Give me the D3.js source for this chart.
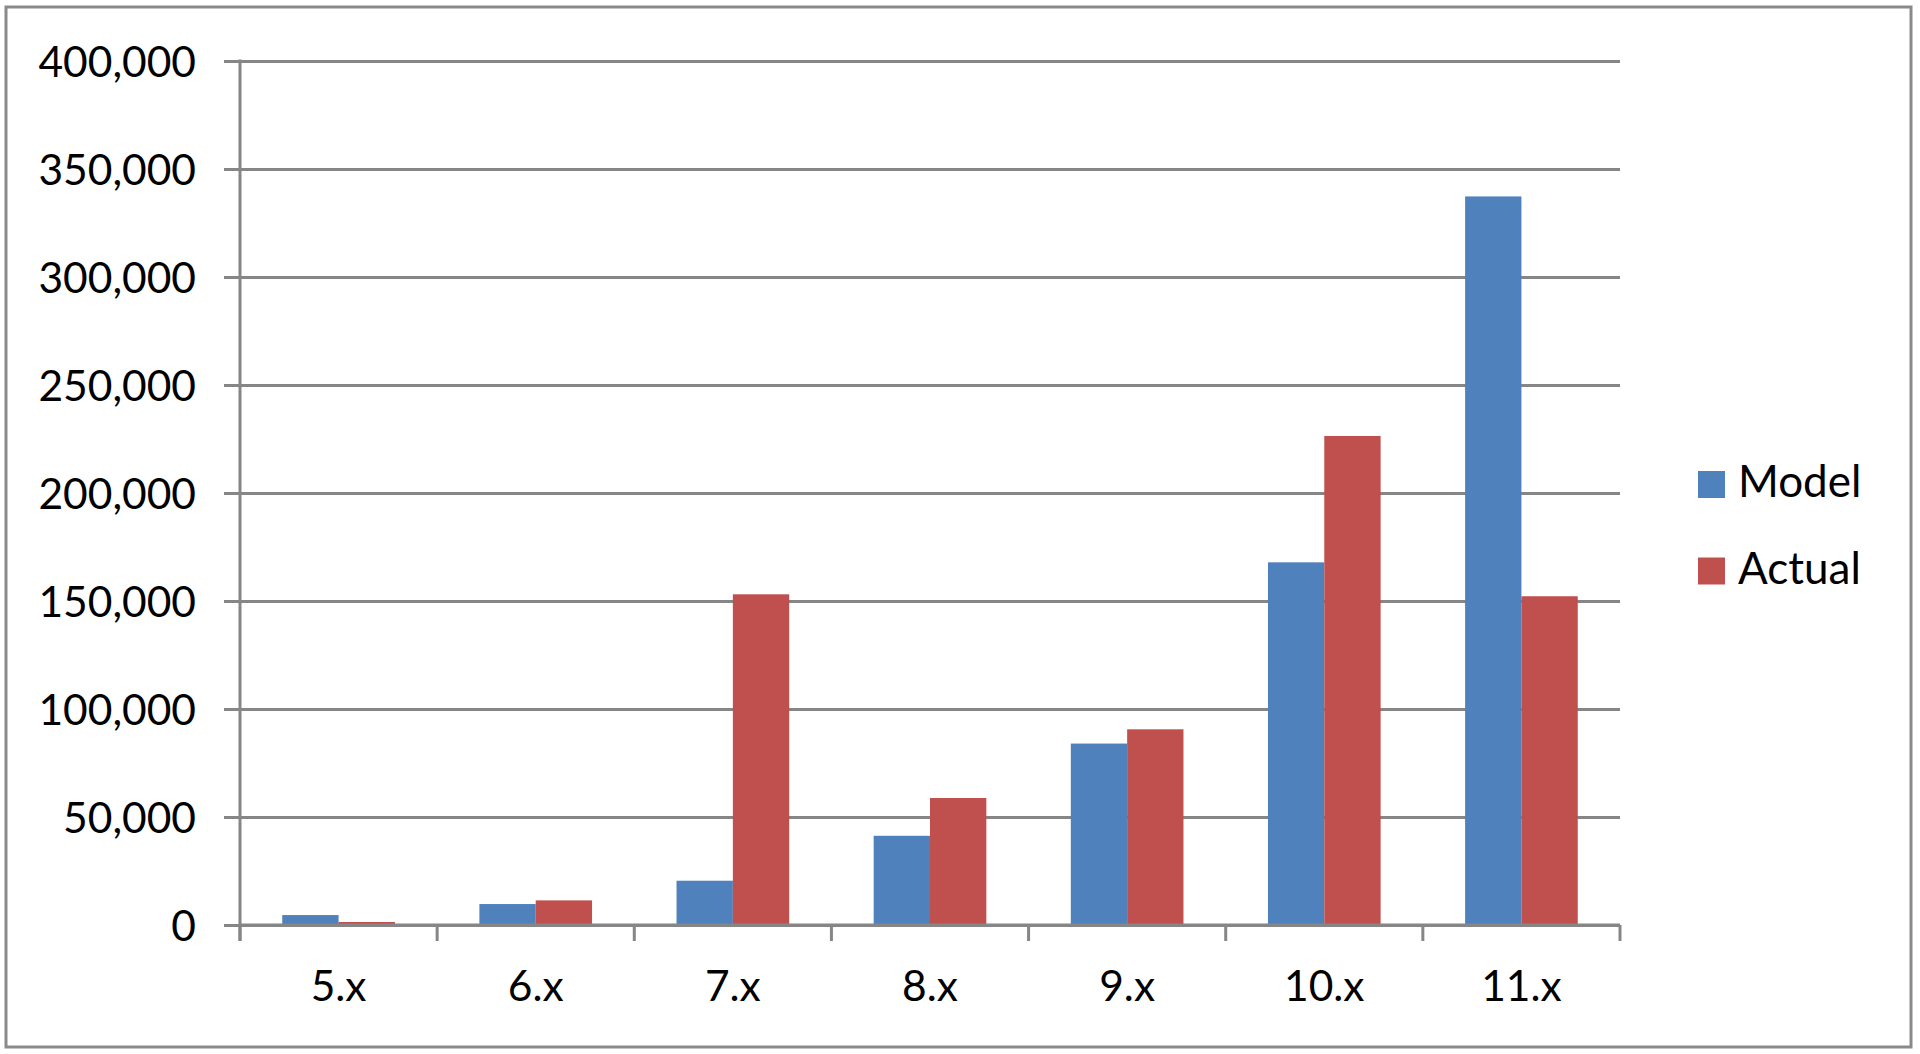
<!DOCTYPE html>
<html>
<head>
<meta charset="utf-8">
<title>Model vs Actual</title>
<script src="https://cdn.jsdelivr.net/npm/d3@7"></script>
<style>
  body { margin: 0; background: #fff; }
  svg { display: block; }
  text { font-family: Lato, "Open Sans", sans-serif; fill: #000; }
</style>
</head>
<body>
<div id="grafico"></div>
<script>
// dados
var categorias = ["5.x", "6.x", "7.x", "8.x", "9.x", "10.x", "11.x"];
var series = ["Model", "Actual"];
var valoresModel = [4600, 9700, 20500, 41300, 84000, 167900, 337300];
var valoresActual = [1400, 11400, 153100, 58800, 90600, 226400, 152200];
var ticksY = [0, 50000, 100000, 150000, 200000, 250000, 300000, 350000, 400000];
var cores = ["#4F81BD", "#C0504D"];

window.addEventListener('load', function(){

var largura = 1920, altura = 1054;
var plot = {left: 240, right: 1620, top: 61, bottom: 925};
var marca = 16;

var svg = d3.select("#grafico").append("svg")
    .attr("width", largura)
    .attr("height", altura);

// borda externa
svg.append("rect")
    .attr("x", 6).attr("y", 7)
    .attr("width", 1905).attr("height", 1040)
    .attr("fill", "#fff")
    .attr("stroke", "#8a8a8a")
    .attr("stroke-width", 3);

var y = d3.scaleLinear()
    .domain([0, 400000])
    .range([plot.bottom, plot.top]);

var x0 = d3.scaleBand()
    .domain(categorias)
    .range([plot.left, plot.right])
    .padding(0);

// gap width 150% como no excel
var x1 = d3.scaleBand()
    .domain(series)
    .range([0, x0.bandwidth()])
    .paddingInner(0)
    .paddingOuter(0.75);

var dados = categorias.map(function(c, i){
  return {categoria: c, valores: [valoresModel[i], valoresActual[i]]};
});

// linhas de grade + rotulos do eixo y (eixo ancorado na direita)
var eixoY = d3.axisLeft(y)
    .tickValues(ticksY)
    .tickFormat(d3.format(","))
    .tickSize(plot.right - plot.left + marca)
    .tickPadding(28);

var gY = svg.append("g")
    .attr("transform", "translate(" + plot.right + ",0)")
    .call(eixoY);
gY.select(".domain").remove();
gY.selectAll(".tick line")
    .attr("stroke", "#868686")
    .attr("stroke-width", 3);
gY.selectAll(".tick text")
    .attr("dy", "0.36em")
    .style("font-size", "42.5px");

// barras
var grupos = svg.append("g").selectAll("g")
    .data(dados)
    .enter().append("g")
    .attr("transform", function(d){ return "translate(" + x0(d.categoria) + ",0)"; });

grupos.selectAll("rect")
    .data(function(d){ return d.valores.map(function(v, k){ return {serie: series[k], valor: v, k: k}; }); })
    .enter().append("rect")
    .attr("x", function(d){ return x1(d.serie); })
    .attr("width", x1.bandwidth())
    .attr("y", function(d){ return y(d.valor); })
    .attr("height", function(d){ return y(0) - y(d.valor); })
    .attr("fill", function(d){ return cores[d.k]; });

// eixo y (linha vertical)
svg.append("line")
    .attr("x1", plot.left).attr("x2", plot.left)
    .attr("y1", plot.top - 1.5).attr("y2", plot.bottom + marca)
    .attr("stroke", "#868686")
    .attr("stroke-width", 3);

// eixo x
var eixoX = d3.axisBottom(x0)
    .tickSize(0)
    .tickPadding(46);

var gX = svg.append("g")
    .attr("transform", "translate(0," + plot.bottom + ")")
    .call(eixoX);
gX.select(".domain").remove();
gX.selectAll(".tick text")
    .attr("dy", "0.71em")
    .style("font-size", "42.5px");

gX.append("line")
    .attr("x1", plot.left).attr("x2", plot.right)
    .attr("y1", 0).attr("y2", 0)
    .attr("stroke", "#868686")
    .attr("stroke-width", 3);

// marcas entre categorias
var limites = categorias.map(function(c){ return x0(c); }).concat([plot.right]);
gX.selectAll(".divisa")
    .data(limites)
    .enter().append("line")
    .attr("class", "divisa")
    .attr("x1", function(d){ return d; }).attr("x2", function(d){ return d; })
    .attr("y1", 0).attr("y2", marca)
    .attr("stroke", "#868686")
    .attr("stroke-width", 3);

// legenda
var legenda = svg.append("g").selectAll("g")
    .data(series)
    .enter().append("g")
    .attr("transform", function(d, i){ return "translate(1698," + (471 + i * 86.5) + ")"; });

legenda.append("rect")
    .attr("width", 27).attr("height", 27)
    .attr("fill", function(d, i){ return cores[i]; });

legenda.append("text")
    .attr("x", 40)
    .attr("y", 26)
    .style("font-size", "44px")
    .text(function(d){ return d; });

});
</script>
</body>
</html>
